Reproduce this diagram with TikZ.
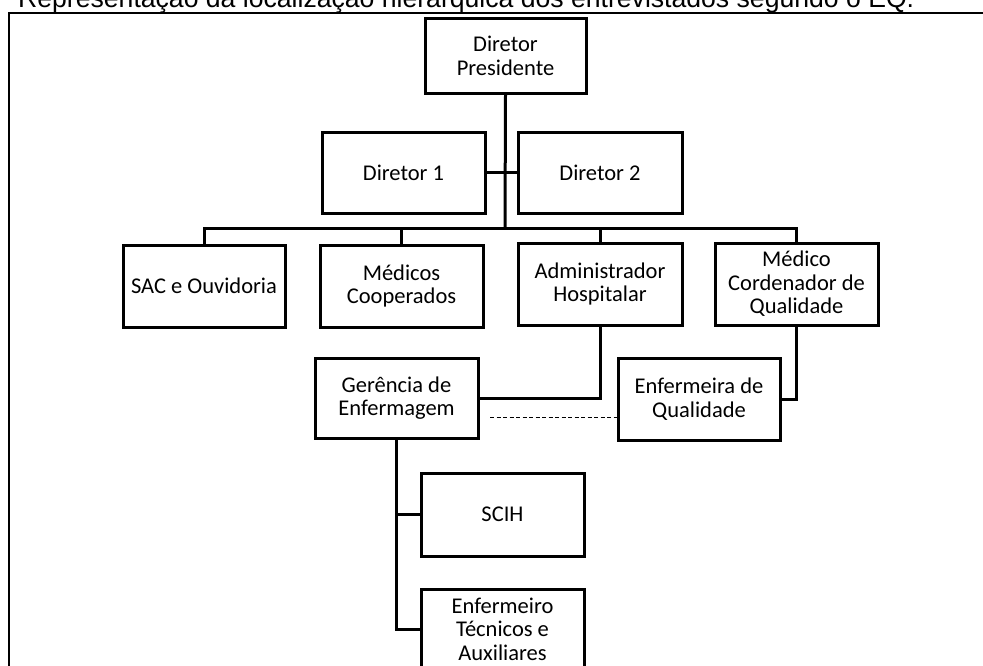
\documentclass[tikz,border=0pt]{standalone}
\usepackage{fontspec}
\setmainfont{Carlito}
\newfontfamily\titlefont{Liberation Sans}
\begin{document}
\begin{tikzpicture}[x=1pt,y=-1pt,
  box/.style={draw, line width=3pt, rectangle, inner sep=1pt, align=center,
    font=\fontsize{22.5}{23.5}\selectfont},
  conn/.style={line width=3pt},
  dashline/.style={line width=1pt, dash pattern=on 4pt off 2.5pt}]
\clip (0,0) rectangle (983,666);
\draw[line width=2pt] (9,680) -- (9,13) -- (990,13);
\node[anchor=base west, inner sep=0pt, font=\titlefont\fontsize{26.6}{30}\selectfont] (title) at (18,7.5)
  {Representação da localização hierárquica dos entrevistados segundo o EQ.};

\node[box, minimum width=161pt, minimum height=75pt] (pres) at (505.5,56) {Diretor\\Presidente};
\node[box, minimum width=163pt, minimum height=80pt] (d1) at (403.5,173) {Diretor 1};
\node[box, minimum width=164pt, minimum height=80pt] (d2) at (600,173) {Diretor 2};
\node[box, minimum width=162pt, minimum height=82pt] (sac) at (204,286) {SAC e Ouvidoria};
\node[box, minimum width=163pt, minimum height=82pt] (med) at (401.5,286) {Médicos\\Cooperados};
\node[box, minimum width=164pt, minimum height=82pt] (adm) at (600,284) {Administrador\\Hospitalar};
\node[box, minimum width=163pt, minimum height=82pt] (mcq) at (796.5,284) {Médico\\Cordenador de\\Qualidade};
\node[box, minimum width=163pt, minimum height=80pt] (ger) at (396.5,398) {Gerência de\\Enfermagem};
\node[box, minimum width=162pt, minimum height=82pt] (enfq) at (699,399) {Enfermeira de\\Qualidade};
\node[box, minimum width=163pt, minimum height=83pt] (scih) at (502.5,514.5) {SCIH};
\node[box, minimum width=163pt, minimum height=80pt] (enf) at (502.5,629) {Enfermeiro\\Técnicos e\\Auxiliares};

\coordinate (bus) at (505,228);
\coordinate (dashL) at (490,417);

\draw[conn] (pres.south) -- (bus);
\draw[conn] (d1.east) -- (d2.west);
\draw[conn] (sac.north) |- (bus) -| (mcq.north);
\draw[conn] (med.north) -- (med.north |- bus);
\draw[conn] (adm.north) -- (adm.north |- bus);
\draw[conn] (adm.south) |- (ger.east);
\draw[conn] (mcq.south) |- (enfq.east);
\draw[dashline] (dashL) -- (dashL -| enfq.west);
\draw[conn] (ger.south) |- (enf.west);
\draw[conn] (scih.west) -- (scih.west -| ger.south);
\end{tikzpicture}
\end{document}
